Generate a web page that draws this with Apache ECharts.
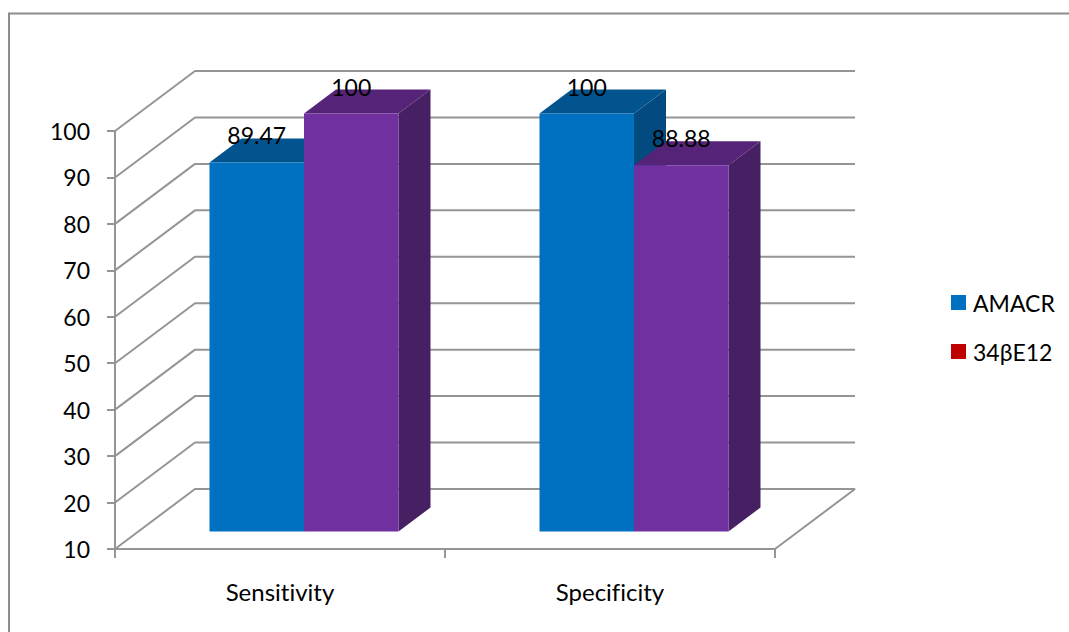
<!DOCTYPE html>
<html>
<head>
<meta charset="utf-8">
<style>
html,body{margin:0;padding:0;background:#fff}
#chart{width:1069px;height:632px}
#chart svg text{font-variant-ligatures:none !important;font-feature-settings:"liga" 0,"clig" 0 !important}
</style>
<script src="https://cdn.jsdelivr.net/npm/echarts@6/dist/echarts.min.js"></script>
</head>
<body>
<div id="chart"></div>
<script>
const categories = ['Sensitivity', 'Specificity'];
const amacrValues = [89.47, 100];
const beValues = [100, 88.88];
const gridTicks = [10, 20, 30, 40, 50, 60, 70, 80, 90, 100];

const FONT = 'Lato';
const LINE = '#959595';
const WALL_DX = 80, WALL_DY = -60;     // offset from front edge to back wall
const BAR_DX = 24, BAR_DY = -17.5;     // bars stand part-way into the floor
const BAR_W = 94.5;
const CAP_DX = 32, CAP_DY = -24;       // depth of each box

// Side and back wall lines for one gridline value.
function renderWall(params, api) {
  const v = api.value(0);
  const left = api.coord([0, v]);
  const size = api.size([1, 0]);
  const x0 = left[0] - size[0] / 2;
  const x1 = x0 + size[0] * 2;
  const y = left[1];
  const points = [[x0, y], [x0 + WALL_DX, y + WALL_DY], [x1 + WALL_DX, y + WALL_DY]];
  if (v === gridTicks[0]) points.push([x1, y]);
  return {
    type: 'polyline',
    shape: { points },
    style: { stroke: LINE, lineWidth: 2, fill: null, lineJoin: 'bevel' }
  };
}

// One box: front, top and side faces plus its value label.
function boxRenderer(slot, front, top, side) {
  return function (params, api) {
    const cat = api.value(0), val = api.value(1);
    const t = api.coord([cat, val]);
    const b = api.coord([cat, gridTicks[0]]);
    const x0 = t[0] + BAR_DX + slot * BAR_W, x1 = x0 + BAR_W;
    const yT = t[1] + BAR_DY, yB = b[1] + BAR_DY;
    const poly = (points, fill) => ({ type: 'polygon', shape: { points }, style: { fill } });
    return {
      type: 'group',
      children: [
        poly([[x1, yT], [x1 + CAP_DX, yT + CAP_DY], [x1 + CAP_DX, yB + CAP_DY], [x1, yB]], side),
        poly([[x0, yT], [x0 + CAP_DX, yT + CAP_DY], [x1 + CAP_DX, yT + CAP_DY], [x1, yT]], top),
        poly([[x0, yT], [x1, yT], [x1, yB], [x0, yB]], front),
        {
          type: 'text', z2: 50,
          style: {
            x: (x0 + x1) / 2, y: yT - 27, text: String(val),
            font: '23px ' + FONT, fill: '#000', align: 'center', verticalAlign: 'middle'
          }
        }
      ]
    };
  };
}

const chart = echarts.init(document.getElementById('chart'), null, { renderer: 'svg' });
chart.setOption({
  animation: false,
  backgroundColor: '#fff',
  textStyle: { fontFamily: FONT },
  graphic: [{
    type: 'polyline', silent: true,
    shape: { points: [[9, 632], [9, 13.5], [1069, 13.5]] },
    style: { stroke: '#8c8c8c', lineWidth: 2, fill: null }
  }],
  grid: { left: 115, top: 131, width: 660, height: 418 },
  xAxis: {
    type: 'category',
    data: categories,
    axisLine: { lineStyle: { color: LINE, width: 2 } },
    axisTick: { show: true, length: 9, alignWithLabel: false, lineStyle: { color: LINE, width: 2 } },
    axisLabel: { color: '#000', fontSize: 24, fontFamily: FONT, margin: 30 },
    splitLine: { show: false }
  },
  yAxis: {
    type: 'value',
    min: 10, max: 100, interval: 10,
    axisLine: { show: true, lineStyle: { color: LINE, width: 2 } },
    axisTick: { show: true, length: 8, lineStyle: { color: LINE, width: 2 } },
    axisLabel: { color: '#000', fontSize: 23, fontFamily: FONT, margin: 25, padding: [4, 0, 0, 0] },
    splitLine: { show: false }
  },
  legend: {
    orient: 'vertical',
    left: 951, top: 291,
    padding: 0,
    itemWidth: 15, itemHeight: 15, itemGap: 26,
    data: ['AMACR', '34βE12'],
    icon: 'rect',
    textStyle: { color: '#000', fontSize: 23, fontFamily: FONT, padding: [0, 0, 0, 2] }
  },
  series: [
    {
      name: 'wall', type: 'custom', silent: true, z: 1,
      encode: { y: 0 },
      data: gridTicks.map(v => [v]),
      renderItem: renderWall
    },
    {
      name: 'AMACR', type: 'custom', z: 2,
      itemStyle: { color: '#0070C0' },
      encode: { x: 0, y: 1 },
      data: amacrValues.map((v, i) => [i, v]),
      renderItem: boxRenderer(-1, '#0070C0', '#02548F', '#024A80')
    },
    {
      name: '34βE12', type: 'custom', z: 3,
      itemStyle: { color: '#C00000' },
      encode: { x: 0, y: 1 },
      data: beValues.map((v, i) => [i, v]),
      renderItem: boxRenderer(0, '#7030A0', '#552478', '#471F63')
    }
  ]
});
</script>
</body>
</html>
